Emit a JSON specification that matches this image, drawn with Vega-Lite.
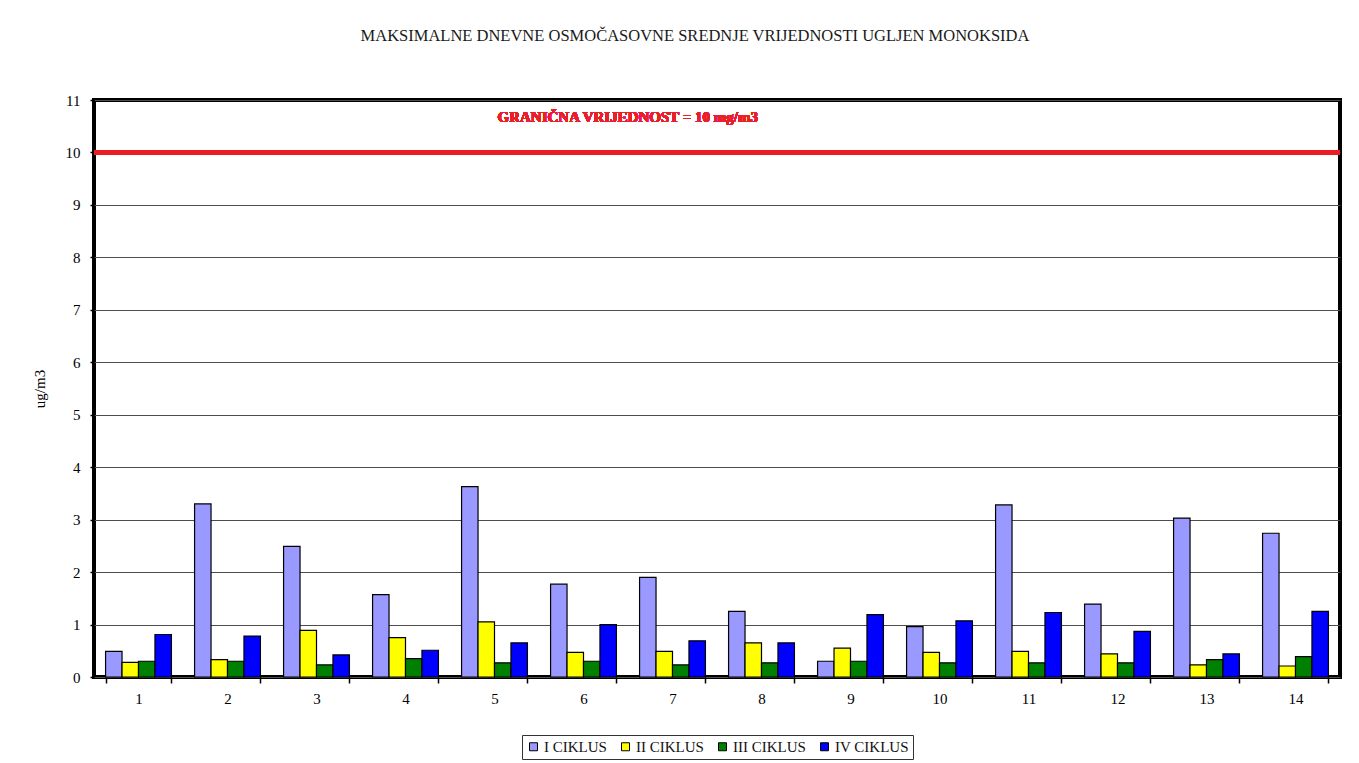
{
  "$schema": "https://vega.github.io/schema/vega-lite/v6.json",
  "width": 1246,
  "height": 577,
  "autosize": {"type": "none"},
  "padding": {"left": 94, "top": 100, "right": 19, "bottom": 86},
  "background": "white",
  "title": {
    "text": "MAKSIMALNE  DNEVNE OSMOČASOVNE SREDNJE VRIJEDNOSTI UGLJEN MONOKSIDA",
    "font": "Liberation Serif",
    "fontSize": 16.5,
    "fontWeight": "normal",
    "color": "#1a1a1a",
    "anchor": "middle",
    "dx": -22,
    "offset": 49
  },
  "config": {
    "view": {"stroke": "black", "strokeWidth": 4},
    "axis": {
      "labelFont": "Liberation Serif",
      "labelFontSize": 15,
      "labelColor": "black",
      "titleFont": "Liberation Serif",
      "titleFontSize": 15,
      "titleFontWeight": "normal",
      "titleColor": "black",
      "tickColor": "black",
      "domainColor": "black"
    }
  },
  "data": {
    "values": [
      {"dan": 1, "ciklus": "I CIKLUS", "v": 0.49},
      {"dan": 1, "ciklus": "II CIKLUS", "v": 0.28},
      {"dan": 1, "ciklus": "III CIKLUS", "v": 0.30},
      {"dan": 1, "ciklus": "IV CIKLUS", "v": 0.81},
      {"dan": 2, "ciklus": "I CIKLUS", "v": 3.30},
      {"dan": 2, "ciklus": "II CIKLUS", "v": 0.33},
      {"dan": 2, "ciklus": "III CIKLUS", "v": 0.30},
      {"dan": 2, "ciklus": "IV CIKLUS", "v": 0.78},
      {"dan": 3, "ciklus": "I CIKLUS", "v": 2.49},
      {"dan": 3, "ciklus": "II CIKLUS", "v": 0.89},
      {"dan": 3, "ciklus": "III CIKLUS", "v": 0.23},
      {"dan": 3, "ciklus": "IV CIKLUS", "v": 0.42},
      {"dan": 4, "ciklus": "I CIKLUS", "v": 1.57},
      {"dan": 4, "ciklus": "II CIKLUS", "v": 0.75},
      {"dan": 4, "ciklus": "III CIKLUS", "v": 0.35},
      {"dan": 4, "ciklus": "IV CIKLUS", "v": 0.51},
      {"dan": 5, "ciklus": "I CIKLUS", "v": 3.63},
      {"dan": 5, "ciklus": "II CIKLUS", "v": 1.05},
      {"dan": 5, "ciklus": "III CIKLUS", "v": 0.27},
      {"dan": 5, "ciklus": "IV CIKLUS", "v": 0.65},
      {"dan": 6, "ciklus": "I CIKLUS", "v": 1.77},
      {"dan": 6, "ciklus": "II CIKLUS", "v": 0.47},
      {"dan": 6, "ciklus": "III CIKLUS", "v": 0.30},
      {"dan": 6, "ciklus": "IV CIKLUS", "v": 1.00},
      {"dan": 7, "ciklus": "I CIKLUS", "v": 1.90},
      {"dan": 7, "ciklus": "II CIKLUS", "v": 0.49},
      {"dan": 7, "ciklus": "III CIKLUS", "v": 0.23},
      {"dan": 7, "ciklus": "IV CIKLUS", "v": 0.69},
      {"dan": 8, "ciklus": "I CIKLUS", "v": 1.25},
      {"dan": 8, "ciklus": "II CIKLUS", "v": 0.65},
      {"dan": 8, "ciklus": "III CIKLUS", "v": 0.27},
      {"dan": 8, "ciklus": "IV CIKLUS", "v": 0.65},
      {"dan": 9, "ciklus": "I CIKLUS", "v": 0.30},
      {"dan": 9, "ciklus": "II CIKLUS", "v": 0.55},
      {"dan": 9, "ciklus": "III CIKLUS", "v": 0.30},
      {"dan": 9, "ciklus": "IV CIKLUS", "v": 1.19},
      {"dan": 10, "ciklus": "I CIKLUS", "v": 0.96},
      {"dan": 10, "ciklus": "II CIKLUS", "v": 0.47},
      {"dan": 10, "ciklus": "III CIKLUS", "v": 0.27},
      {"dan": 10, "ciklus": "IV CIKLUS", "v": 1.07},
      {"dan": 11, "ciklus": "I CIKLUS", "v": 3.28},
      {"dan": 11, "ciklus": "II CIKLUS", "v": 0.49},
      {"dan": 11, "ciklus": "III CIKLUS", "v": 0.27},
      {"dan": 11, "ciklus": "IV CIKLUS", "v": 1.23},
      {"dan": 12, "ciklus": "I CIKLUS", "v": 1.39},
      {"dan": 12, "ciklus": "II CIKLUS", "v": 0.44},
      {"dan": 12, "ciklus": "III CIKLUS", "v": 0.27},
      {"dan": 12, "ciklus": "IV CIKLUS", "v": 0.87},
      {"dan": 13, "ciklus": "I CIKLUS", "v": 3.03},
      {"dan": 13, "ciklus": "II CIKLUS", "v": 0.23},
      {"dan": 13, "ciklus": "III CIKLUS", "v": 0.33},
      {"dan": 13, "ciklus": "IV CIKLUS", "v": 0.44},
      {"dan": 14, "ciklus": "I CIKLUS", "v": 2.74},
      {"dan": 14, "ciklus": "II CIKLUS", "v": 0.21},
      {"dan": 14, "ciklus": "III CIKLUS", "v": 0.39},
      {"dan": 14, "ciklus": "IV CIKLUS", "v": 1.25}
    ]
  },
  "layer": [
    {
      "mark": {"type": "bar", "stroke": "black", "strokeWidth": 1.2},
      "encoding": {
        "x": {
          "field": "dan",
          "type": "ordinal",
          "scale": {"paddingInner": 0.26, "paddingOuter": 0.13},
          "axis": {
            "title": null,
            "labelAngle": 0,
            "tickBand": "extent",
            "tickSize": 6,
            "tickWidth": 1.5,
            "domain": false,
            "labelPadding": 8
          }
        },
        "xOffset": {
          "field": "ciklus",
          "type": "nominal",
          "sort": ["I CIKLUS", "II CIKLUS", "III CIKLUS", "IV CIKLUS"],
          "scale": {"paddingInner": 0, "paddingOuter": 0}
        },
        "y": {
          "field": "v",
          "type": "quantitative",
          "scale": {"domain": [0, 11], "nice": false},
          "axis": {
            "title": "ug/m3",
            "values": [0, 1, 2, 3, 4, 5, 6, 7, 8, 9, 10, 11],
            "tickSize": 4,
            "tickWidth": 1.5,
            "domain": false,
            "gridColor": "#4d4d4d",
            "gridWidth": 1.2,
            "labelPadding": 10,
            "titlePadding": 18
          }
        },
        "color": {
          "field": "ciklus",
          "type": "nominal",
          "sort": ["I CIKLUS", "II CIKLUS", "III CIKLUS", "IV CIKLUS"],
          "scale": {
            "domain": ["I CIKLUS", "II CIKLUS", "III CIKLUS", "IV CIKLUS"],
            "range": ["#9999FF", "#FFFF00", "#008000", "#0000FF"]
          },
          "legend": {
            "title": null,
            "orient": "none",
            "legendX": 428,
            "legendY": 635,
            "direction": "horizontal",
            "symbolType": "square",
            "symbolSize": 64,
            "symbolStrokeColor": "black",
            "symbolStrokeWidth": 1,
            "labelFont": "Liberation Serif",
            "labelFontSize": 15,
            "labelColor": "#111",
            "labelOffset": 3,
            "columnPadding": 11,
            "strokeColor": "#333",
            "fillColor": "white",
            "padding": 4
          }
        }
      }
    },
    {
      "mark": {"type": "rule", "color": "#ED1C24", "strokeWidth": 5},
      "encoding": {"y": {"datum": 10}}
    },
    {
      "mark": {
        "type": "text",
        "text": "GRANIČNA VRIJEDNOST = 10 mg/m3",
        "font": "Liberation Serif",
        "fontSize": 15,
        "fontWeight": "bold",
        "fill": "#E8202A",
        "align": "left",
        "baseline": "middle",
        "dx": 3
      },
      "encoding": {
        "x": {"datum": 5, "type": "ordinal"},
        "y": {"datum": 10.68}
      }
    }
  ]
}
